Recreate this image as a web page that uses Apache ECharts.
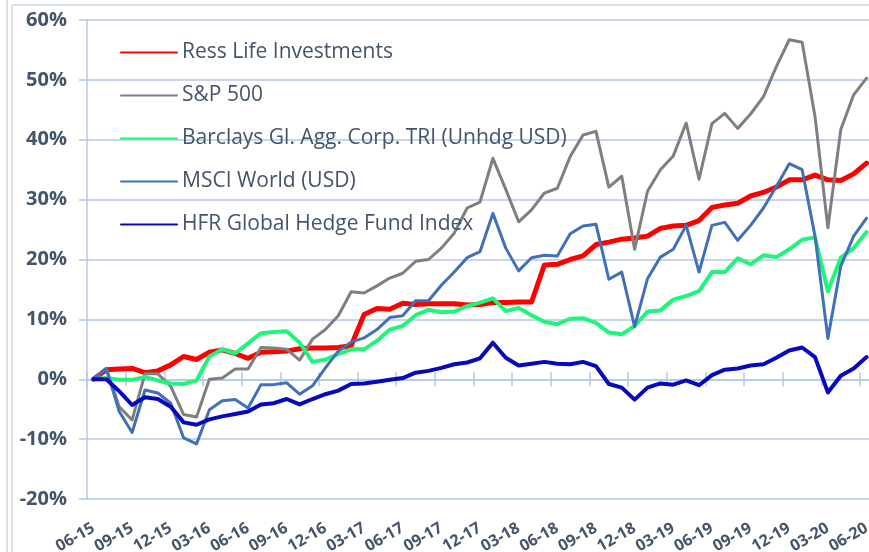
<!DOCTYPE html>
<html><head><meta charset="utf-8">
<script src="https://cdn.jsdelivr.net/npm/echarts@6/dist/echarts.min.js"></script>
<style>html,body{margin:0;padding:0;background:#fff}#c{width:869px;height:552px}</style>
</head><body><div id="c"></div>
<script>
const months = ['06-15','07-15','08-15','09-15','10-15','11-15','12-15','01-16','02-16','03-16','04-16','05-16',
'06-16','07-16','08-16','09-16','10-16','11-16','12-16','01-17','02-17','03-17','04-17','05-17',
'06-17','07-17','08-17','09-17','10-17','11-17','12-17','01-18','02-18','03-18','04-18','05-18',
'06-18','07-18','08-18','09-18','10-18','11-18','12-18','01-19','02-19','03-19','04-19','05-19',
'06-19','07-19','08-19','09-19','10-19','11-19','12-19','01-20','02-20','03-20','04-20','05-20','06-20'];

const seriesNames = ['Ress Life Investments','S&P 500','Barclays Gl. Agg. Corp. TRI (Unhdg USD)','MSCI World (USD)','HFR Global Hedge Fund Index'];

const ress = [0,1.6,1.7,1.8,1.1,1.4,2.4,3.8,3.3,4.5,4.9,4.3,3.5,4.5,4.6,4.7,5.1,5.2,5.2,5.3,5.6,10.8,11.8,11.7,12.7,12.5,12.6,12.6,12.6,12.4,12.5,12.8,12.8,12.9,12.9,19.1,19.2,20.0,20.6,22.5,22.9,23.4,23.6,23.9,25.2,25.6,25.7,26.5,28.7,29.1,29.4,30.6,31.2,32.1,33.3,33.3,34.1,33.3,33.2,34.3,36.1];

const sp500 = [0,1.8,-4.6,-6.8,0.9,0.9,-1.2,-5.9,-6.3,0,0.2,1.7,1.7,5.3,5.2,5.0,3.2,6.7,8.3,10.6,14.6,14.4,15.6,16.9,17.7,19.7,20.0,21.9,24.4,28.6,29.6,36.9,31.7,26.3,28.3,31.1,31.9,37.2,40.8,41.4,32.1,33.9,21.7,31.4,35.0,37.3,42.8,33.4,42.7,44.4,41.9,44.3,47.2,52.2,56.7,56.3,43.9,25.3,41.7,47.5,50.3];

const barclays = [0,0.2,-0.1,-0.1,0.4,-0.2,-0.7,-0.8,-0.2,3.8,5.0,4.3,6.0,7.7,7.9,8.0,6.1,2.9,3.3,4.2,5.0,5.0,6.4,8.3,8.9,10.7,11.6,11.2,11.3,12.2,12.8,13.5,11.4,11.9,10.7,9.6,9.2,10.1,10.2,9.4,7.8,7.5,8.9,11.3,11.5,13.3,13.9,14.7,17.9,17.9,20.2,19.2,20.7,20.4,21.7,23.3,23.7,14.7,20.3,21.9,24.6];

const msci = [0,1.8,-5.4,-8.9,-1.8,-2.3,-4.0,-9.8,-10.8,-5.1,-3.6,-3.4,-4.8,-0.9,-0.9,-0.6,-2.5,-1.1,1.9,4.7,6.2,6.9,8.3,10.3,10.6,13.1,13.1,15.7,17.9,20.3,21.3,27.7,21.9,18.1,20.3,20.7,20.6,24.3,25.6,25.9,16.7,17.9,8.8,16.8,20.4,21.7,25.7,17.9,25.7,26.2,23.2,25.7,28.6,32.2,36.0,35.0,23.9,6.8,18.9,23.9,26.9];

const hfr = [0,0,-2.0,-4.3,-3.0,-3.3,-4.6,-7.2,-7.6,-6.7,-6.2,-5.8,-5.4,-4.2,-4.0,-3.3,-4.2,-3.3,-2.5,-1.9,-0.8,-0.7,-0.4,-0.1,0.2,1.1,1.4,1.9,2.5,2.8,3.5,6.1,3.6,2.3,2.6,2.9,2.6,2.5,2.9,2.2,-0.8,-1.4,-3.4,-1.4,-0.7,-0.9,-0.2,-1.0,0.7,1.6,1.8,2.3,2.5,3.6,4.8,5.3,3.7,-2.2,0.6,1.8,3.7];

const yMin = -20, yMax = 60, yStep = 10;

const GRID = '#b4c7e7';
const TEXT = '#44546a';
const FONT = 'Open Sans';

const styles = [
  {color:'#ff0000', width:5},
  {color:'#7f7f7f', width:3},
  {color:'#1ef57a', width:4},
  {color:'#4170b8', width:3},
  {color:'#0808bd', width:4}
];
const values = [ress, sp500, barclays, msci, hfr];

const chart = echarts.init(document.getElementById('c'), null, {renderer:'canvas'});
const catAxisBase = {type:'category', data: months, boundaryGap: true};
chart.setOption({
  animation: false,
  backgroundColor: '#fff',
  graphic: [
    {type:'line', shape:{x1:7,y1:0,x2:7,y2:552}, style:{stroke:'#d6d6d6', lineWidth:1.5}, silent:true},
    {type:'line', shape:{x1:12,y1:5,x2:12,y2:552}, style:{stroke:'#cdd7ea', lineWidth:1.5}, silent:true},
    {type:'line', shape:{x1:12,y1:5,x2:869,y2:5}, style:{stroke:'#cdd7ea', lineWidth:1.5}, silent:true}
  ],
  grid: {left: 87, right: -4, top: 20, bottom: 53, containLabel:false, outerBoundsMode:'none'},
  legend: {
    orient:'vertical', left:115, top:36, itemWidth:56, itemHeight:14, itemGap:20,
    selectedMode:false,
    itemStyle:{opacity:0},
    textStyle:{fontFamily:FONT, fontSize:21, color:TEXT, lineHeight:23},
    data: seriesNames
  },
  xAxis: [
    Object.assign({}, catAxisBase, {
      position:'bottom',
      axisLine:{show:false, onZero:false}, axisTick:{show:false}, splitLine:{show:false},
      axisLabel:{interval:2, rotate:30, margin:28, color:TEXT, fontFamily:FONT, fontWeight:'bold', fontSize:16}
    }),
    Object.assign({}, catAxisBase, {
      position:'bottom',
      axisLine:{show:true, onZero:true, onZeroAxisIndex:0, lineStyle:{color:GRID, width:1.5}},
      axisTick:{show:true, interval:2, length:7, lineStyle:{color:GRID, width:1.5}},
      axisLabel:{show:false}, splitLine:{show:false}
    }),
    Object.assign({}, catAxisBase, {
      position:'bottom',
      axisLine:{show:false, onZero:true, onZeroAxisIndex:0},
      axisTick:{show:true, inside:true, interval:2, length:7, lineStyle:{color:GRID, width:1.5}},
      axisLabel:{show:false}, splitLine:{show:false}
    })
  ],
  yAxis: {
    type:'value', min:yMin, max:yMax, interval:yStep,
    axisLine:{show:true, lineStyle:{color:GRID, width:1.5}},
    axisTick:{show:true, length:8, lineStyle:{color:GRID, width:1.5}},
    axisLabel:{formatter:'{value}%', color:TEXT, fontFamily:FONT, fontWeight:'bold', fontSize:20, margin:20},
    splitLine:{lineStyle:{color:GRID, width:1.5}}
  },
  series: seriesNames.map((n,k)=>({
    name:n, type:'line', xAxisIndex:0, yAxisIndex:0, data:values[k],
    symbol:'none', smooth:false,
    lineStyle:{color:styles[k].color, width:styles[k].width, cap:'round', join:'round'},
    itemStyle:{color:styles[k].color}
  }))
});
</script></body></html>
